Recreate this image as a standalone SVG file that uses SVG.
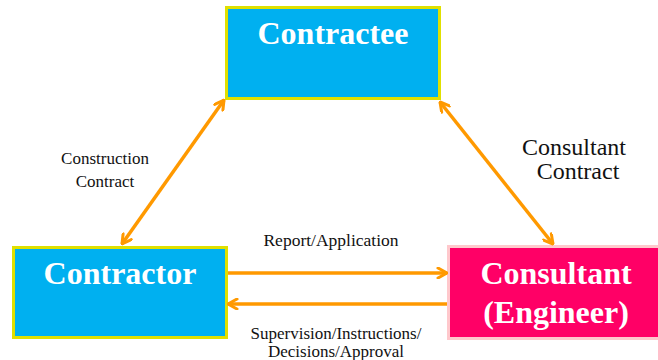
<svg xmlns="http://www.w3.org/2000/svg" width="658" height="360" viewBox="0 0 658 360">
<style>
.box{stroke-width:3}
.blue{fill:#00B0F0;stroke:#E0E000}
.pink{fill:#FF0066;stroke:#FFC8CC}
.title{font-family:"Liberation Serif",serif;font-weight:bold;fill:#fff;text-anchor:middle;font-size:32px}
.lbl{font-family:"Liberation Serif",serif;fill:#111;text-anchor:middle}
.conn{stroke:#FF9900;stroke-width:3.5;fill:none}
</style>
<defs>
<marker id="ah" viewBox="0 0 12 12" refX="11" refY="6" markerWidth="12" markerHeight="12" markerUnits="userSpaceOnUse" orient="auto-start-reverse">
<path d="M2,1 L11,6 L2,11" fill="none" stroke="#FF9900" stroke-width="3" stroke-linecap="round" stroke-linejoin="round"/>
</marker>
</defs>
<g id="contractee">
<rect class="box blue" x="226.5" y="7.5" width="213" height="91"/>
<text class="title" x="333" y="44">Contractee</text>
</g>
<g id="contractor">
<rect class="box blue" x="13.5" y="247.5" width="213" height="90"/>
<text class="title" x="120" y="284">Contractor</text>
</g>
<g id="consultant">
<rect class="box pink" x="448.5" y="246.5" width="214" height="92"/>
<text class="title" x="556" y="284">Consultant</text>
<text class="title" x="556" y="323">(Engineer)</text>
</g>
<g id="connectors">
<line class="conn" x1="224" y1="100" x2="122" y2="244" marker-start="url(#ah)" marker-end="url(#ah)"/>
<line class="conn" x1="440" y1="102" x2="553" y2="244" marker-start="url(#ah)" marker-end="url(#ah)"/>
<line class="conn" x1="228" y1="273" x2="447" y2="273" marker-end="url(#ah)"/>
<line class="conn" x1="447" y1="304" x2="228" y2="304" marker-end="url(#ah)"/>
</g>
<g id="labels">
<text class="lbl" x="105" y="164" font-size="17">Construction</text>
<text class="lbl" x="105" y="187" font-size="17">Contract</text>
<text class="lbl" x="574" y="155" font-size="24">Consultant</text>
<text class="lbl" x="578" y="179" font-size="24">Contract</text>
<text class="lbl" x="331" y="246" font-size="17.5">Report/Application</text>
<text class="lbl" x="336" y="339" font-size="17">Supervision/Instructions/</text>
<text class="lbl" x="336" y="357" font-size="17">Decisions/Approval</text>
</g>
</svg>
